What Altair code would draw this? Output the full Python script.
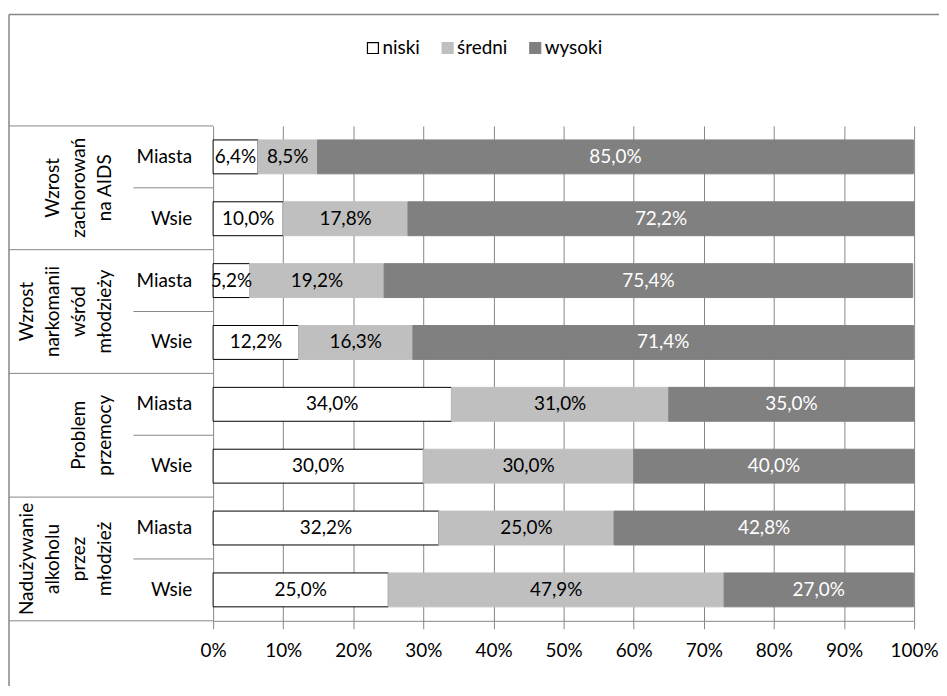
import altair as alt
import pandas as pd

groups = [
    ["Wzrost", "zachorowań", "na AIDS"],
    ["Wzrost", "narkomanii", "wśród", "młodzieży"],
    ["Problem", "przemocy"],
    ["Nadużywanie", "alkoholu", "przez", "młodzież"],
]
subs = ["Miasta", "Wsie"]
categories = ["niski", "średni", "wysoki"]

niski = [6.4, 10.0, 5.2, 12.2, 34.0, 30.0, 32.2, 25.0]
sredni = [8.5, 17.8, 19.2, 16.3, 31.0, 30.0, 25.0, 47.9]
wysoki = [85.0, 72.2, 75.4, 71.4, 35.0, 40.0, 42.8, 27.0]

x_ticks = [0, 10, 20, 30, 40, 50, 60, 70, 80, 90, 100]

FILLS = ["#FFFFFF", "#BFBFBF", "#808080"]
STROKES = ["#000000", "#BFBFBF", "#808080"]
TEXTC = ["#000000", "#000000", "#FFFFFF"]
GRID = "#868686"
FONT = "Lato"
FS = 19
HALF = 0.274
LH = 26
LAST_X = -99

rows = []
for i in range(8):
    vals = [niski[i], sredni[i], wysoki[i]]
    start = 0.0
    for c, v in enumerate(vals):
        rows.append({
            "y0": i + 0.5 - HALF,
            "y1": i + 0.5 + HALF,
            "yc": i + 0.5,
            "cat": categories[c],
            "start": start,
            "end": start + v,
            "mid": start + v / 2,
            "label": f"{v:.1f}".replace(".", ",") + "%",
            "tcolor": TEXTC[c],
        })
        start += v
df = pd.DataFrame(rows)

sub_df = pd.DataFrame({"yc": [i + 0.5 for i in range(8)],
                       "sub": [subs[i % 2] for i in range(8)],
                       "px": [-21] * 8})
grp_df = pd.DataFrame({"yc": [2 * g + 1 for g in range(4)], "grp": groups,
                       "px": [LAST_X - (len(g) - 1) * LH for g in groups]})
sep = pd.DataFrame({"y": [0, 2, 4, 6, 8, 1, 3, 5, 7],
                    "xa": [-205] * 5 + [-80] * 4,
                    "xb": [0] * 9})
frame_df = pd.DataFrame({"xa": [-205, -205], "xb": [-205, 760],
                         "ya": [-112, -112], "yb": [600, -112]})

xs = alt.Scale(domain=[0, 100], nice=False)
ys = alt.Scale(domain=[0, 8], reverse=True, nice=False, zero=False)

xaxis = alt.Axis(values=x_ticks, labelExpr="datum.value + '%'", title=None,
                 tickSize=8, tickColor=GRID, domainColor=GRID, gridColor=GRID,
                 grid=True, labelFont=FONT, labelFontSize=FS, labelColor="#000000",
                 labelPadding=13, labelFlush=False)

leg = alt.Legend(title=None, orient="none", legendX=151, legendY=-88,
                 direction="horizontal", symbolType="square",
                 symbolSize=121, symbolStrokeWidth=1.2, symbolStrokeColor="#000000",
                 labelFont=FONT, labelFontSize=FS, labelColor="#000000",
                 columnPadding=18, labelOffset=0, padding=0)

bars = alt.Chart(df).mark_bar(strokeWidth=1).encode(
    x=alt.X("start:Q", scale=xs, axis=xaxis),
    x2="end:Q",
    y=alt.Y("y0:Q", scale=ys, axis=None),
    y2="y1:Q",
    fill=alt.Fill("cat:N", scale=alt.Scale(domain=categories, range=FILLS), legend=leg),
    stroke=alt.Stroke("cat:N", scale=alt.Scale(domain=categories, range=STROKES), legend=None),
)

labels = alt.Chart(df).mark_text(font=FONT, fontSize=FS, baseline="middle", align="center").encode(
    x=alt.X("mid:Q", scale=xs),
    y=alt.Y("yc:Q", scale=ys, axis=None),
    text="label:N",
    color=alt.Color("tcolor:N", scale=None),
)

sub_labels = alt.Chart(sub_df).mark_text(font=FONT, fontSize=FS, align="right",
                                         baseline="middle", color="#000000").encode(
    x=alt.X("px:Q", scale=None),
    y=alt.Y("yc:Q", scale=ys, axis=None),
    text="sub:N",
)

grp_labels = alt.Chart(grp_df).mark_text(font=FONT, fontSize=FS, align="center",
                                         baseline="bottom", angle=270,
                                         lineHeight=LH, color="#000000").encode(
    x=alt.X("px:Q", scale=None),
    y=alt.Y("yc:Q", scale=ys, axis=None),
    text="grp",
)

sep_rules = alt.Chart(sep).mark_rule(color=GRID, strokeWidth=1).encode(
    x=alt.X("xa:Q", scale=None), x2="xb:Q", y=alt.Y("y:Q", scale=ys, axis=None))

frame = alt.Chart(frame_df).mark_rule(color=GRID, strokeWidth=1.5).encode(
    x=alt.X("xa:Q", scale=None), x2="xb:Q",
    y=alt.Y("ya:Q", scale=None), y2="yb:Q")

chart = alt.layer(bars, labels, sub_labels, grp_labels, sep_rules, frame).properties(
    width=704, height=497,
    autosize=alt.AutoSizeParams(type="none"),
    padding={"left": 206, "top": 117, "right": 25, "bottom": 64},
    background="#FFFFFF",
).configure_view(strokeWidth=0)

chart.save("out.html", embed_options={"renderer": "svg", "actions": False})
